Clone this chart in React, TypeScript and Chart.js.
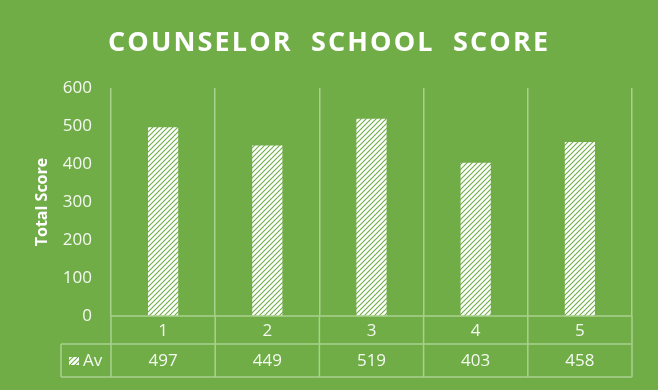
import React, { useEffect, useRef } from "react";
import { Chart, registerables } from "chart.js";

Chart.register(...registerables);

const chartTitle = "COUNSELOR SCHOOL SCORE";
const yAxisTitle = "Total Score";
const seriesName = "Av";
const categories = ["1", "2", "3", "4", "5"];
const avValues = [497, 449, 519, 403, 458];
const yMin = 0;
const yMax = 600;
const yStep = 100;

const BG = "#70AD47";
const LINE = "#A9D18E";
const TEXT = "rgba(255,255,255,0.92)";
const FONT = "'Open Sans', 'DejaVu Sans', sans-serif";

function makeHatch(): CanvasPattern | string {
  const c = document.createElement("canvas");
  const s = 5;
  c.width = s;
  c.height = s;
  const g = c.getContext("2d");
  if (!g) return "#ffffff";
  g.fillStyle = "#ffffff";
  g.fillRect(0, 0, s, s);
  g.strokeStyle = BG;
  g.lineWidth = 1.1;
  g.beginPath();
  g.moveTo(-1, s + 1);
  g.lineTo(s + 1, -1);
  g.moveTo(-1, 1);
  g.lineTo(1, -1);
  g.moveTo(s - 1, s + 1);
  g.lineTo(s + 1, s - 1);
  g.stroke();
  const p = g.createPattern(c, "repeat");
  return p || "#ffffff";
}

const bgPlugin = {
  id: "bgPlugin",
  beforeDraw(chart: any) {
    const ctx = chart.ctx;
    ctx.save();
    ctx.fillStyle = BG;
    ctx.fillRect(0, 0, chart.width, chart.height);
    ctx.restore();
  },
};

const titlePlugin = {
  id: "titlePlugin",
  afterDraw(chart: any) {
    const ctx = chart.ctx;
    ctx.save();
    ctx.font = `bold 27px ${FONT}`;
    ctx.fillStyle = "#ffffff";
    ctx.textBaseline = "alphabetic";
    ctx.textAlign = "left";
    const text = chartTitle.split(" ").join("  ");
    const targetLeft = 108;
    const targetRight = 548;
    (ctx as any).letterSpacing = "0px";
    const w0 = ctx.measureText(text).width;
    const spacing = (targetRight - targetLeft - w0) / (text.length - 1);
    (ctx as any).letterSpacing = `${spacing}px`;
    ctx.fillText(text, targetLeft, 51);
    (ctx as any).letterSpacing = "0px";
    ctx.restore();
  },
};

const tablePlugin = {
  id: "tablePlugin",
  afterDraw(chart: any) {
    const ctx = chart.ctx;
    const x = chart.scales.x;
    const area = chart.chartArea;
    const n = categories.length;
    const cw = (x.right - x.left) / n;
    const top = area.bottom;
    const mid = 344;
    const bot = 377;
    const legLeft = 61;
    ctx.save();
    ctx.strokeStyle = LINE;
    ctx.lineWidth = 1.5;
    ctx.beginPath();
    ctx.moveTo(x.left, top);
    ctx.lineTo(x.right, top);
    ctx.moveTo(legLeft, mid);
    ctx.lineTo(x.right, mid);
    ctx.moveTo(legLeft, bot);
    ctx.lineTo(x.right, bot);
    ctx.moveTo(legLeft, mid);
    ctx.lineTo(legLeft, bot);
    for (let i = 0; i <= n; i++) {
      const px = x.left + i * cw;
      ctx.moveTo(px, top);
      ctx.lineTo(px, bot);
    }
    ctx.stroke();

    ctx.fillStyle = TEXT;
    ctx.font = `17px ${FONT}`;
    ctx.textAlign = "center";
    ctx.textBaseline = "middle";
    categories.forEach((c, i) => {
      const px = x.getPixelForValue(i);
      ctx.fillText(c, px, (top + mid) / 2 + 1);
      ctx.fillText(String(avValues[i]), px, (mid + bot) / 2 + 1);
    });
    // legend key
    const pat = makeHatch();
    ctx.fillStyle = pat as any;
    ctx.fillRect(69, 357, 10, 8);
    ctx.fillStyle = TEXT;
    ctx.textAlign = "left";
    ctx.fillText(seriesName, 83, (mid + bot) / 2 + 1);
    ctx.restore();
  },
};

export default function App() {
  const ref = useRef<HTMLCanvasElement | null>(null);
  useEffect(() => {
    document.body.style.margin = "0";
    const canvas = ref.current;
    if (!canvas) return;
    const chart = new Chart(canvas, {
      type: "bar",
      data: {
        labels: categories,
        datasets: [
          {
            label: seriesName,
            data: avValues,
            backgroundColor: makeHatch() as any,
            borderWidth: 0,
            barPercentage: 0.29,
            categoryPercentage: 1,
          },
        ],
      },
      options: {
        responsive: false,
        animation: false,
        layout: { padding: { top: 88, right: 26, left: 0, bottom: 0 } },
        plugins: {
          legend: { display: false },
          title: { display: false },
          tooltip: { enabled: false },
        },
        scales: {
          x: {
            type: "category",
            afterFit: (s: any) => {
              s.height = 74;
            },
            ticks: { display: false },
            grid: {
              offset: true,
              color: LINE,
              lineWidth: 1.5,
              drawTicks: false,
            },
            border: { display: false },
          },
          y: {
            min: yMin,
            max: yMax,
            afterFit: (s: any) => {
              s.width = 111;
            },
            ticks: {
              stepSize: yStep,
              color: TEXT,
              padding: 19,
              font: { family: FONT, size: 17 },
            },
            grid: { display: false, drawTicks: false },
            border: { display: false },
            title: {
              display: true,
              text: yAxisTitle,
              color: "#ffffff",
              font: { family: FONT, size: 16, weight: "bold" },
              padding: { top: 33, bottom: 0 },
            },
          },
        },
      },
      plugins: [bgPlugin, titlePlugin, tablePlugin],
    });
    return () => chart.destroy();
  }, []);
  return (
    <div style={{ width: 658, height: 390 }}>
      <canvas ref={ref} width={658} height={390} />
    </div>
  );
}
